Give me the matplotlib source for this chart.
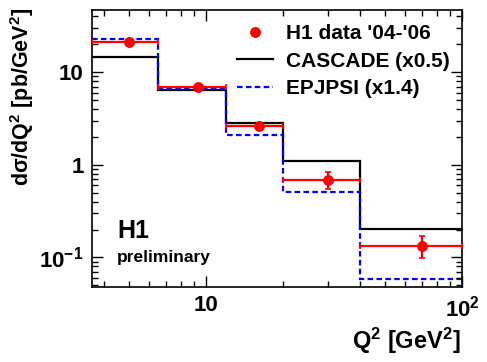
import matplotlib
matplotlib.use('Agg')
import matplotlib.pyplot as plt
from matplotlib.lines import Line2D
import numpy as np

plt.rcParams['font.family'] = ['Liberation Sans', 'DejaVu Sans']
plt.rcParams['font.weight'] = 'bold'
plt.rcParams['mathtext.fontset'] = 'custom'
plt.rcParams['mathtext.rm'] = 'Liberation Sans:bold'
plt.rcParams['mathtext.it'] = 'Liberation Sans:bold'
plt.rcParams['mathtext.bf'] = 'Liberation Sans:bold'

# bins in Q^2 [GeV^2]
edges = [3.6, 6.5, 12, 20, 40, 100]
# H1 data points
q2 = [5.0, 9.3, 16.1, 30.0, 70.0]
xsec = [21.2, 6.94, 2.65, 0.68, 0.133]
err_up = [1.2, 0.5, 0.2, 0.15, 0.037]
err_dn = [1.2, 0.5, 0.2, 0.13, 0.034]
# model predictions (scaled)
cascade = [14.6, 6.4, 2.86, 1.09, 0.204]
epjpsi = [22.8, 6.67, 2.12, 0.508, 0.0587]

W, H = 487, 362
fig = plt.figure(figsize=(W/100, H/100), dpi=100)
ax = fig.add_axes([92/W, 1-287/H, (462-92)/W, (287-10)/H])

dash = (0, (2.5, 1.5))
ax.stairs(cascade, edges, color='black', lw=1.6, baseline=None)
ax.stairs(epjpsi, edges, color='blue', lw=1.6, ls=dash, baseline=None)

xlo = np.array(q2) - np.array(edges[:-1])
xhi = np.array(edges[1:]) - np.array(q2)
ax.errorbar(q2, xsec, xerr=[xlo, xhi], yerr=[err_dn, err_up], fmt='o', color='red',
            ms=6.8, lw=1.6, capsize=2.5, capthick=1.2, zorder=5)

ax.set_xscale('log')
ax.set_yscale('log')
ax.set_xlim(3.6, 100)
ax.set_ylim(0.048, 47)

ax.set_xticks([10, 100])
ax.set_xticklabels(['10', r'$10^{2}$'])
ax.set_yticks([0.1, 1, 10])
ax.set_yticklabels([r'$10^{-1}$', '1', '10'])
ax.tick_params(which='both', direction='in', top=True, right=True, labelsize=16, width=1)
ax.tick_params(which='major', length=8, pad=6)
ax.tick_params(which='minor', length=4)
for s in ax.spines.values():
    s.set_linewidth(1.2)

fig.text(22/W, 1-8/H, r'd$\sigma$/dQ$^{2}$ [pb/GeV$^{2}$]', fontsize=15.5, fontweight='bold',
         rotation=90, ha='center', va='top')
fig.text(461/W, 1-326/H, r'Q$^{2}$ [GeV$^{2}$]', fontsize=17, fontweight='bold',
         ha='right', va='top')

ax.text((117-92)/370, (287-238)/277, 'H1', transform=ax.transAxes, fontsize=18,
        fontweight='bold', va='baseline')
ax.text((117-92)/370, (287-262)/277, 'preliminary', transform=ax.transAxes, fontsize=12.5,
        fontweight='bold', va='baseline')

h = [Line2D([], [], marker='o', color='red', ls='none', ms=6.8),
     Line2D([], [], color='black', lw=1.6),
     Line2D([], [], color='blue', lw=1.6, ls=dash)]
labels = ["H1 data '04-'06", 'CASCADE (x0.5)', 'EPJPSI (x1.4)']
ax.legend(h, labels, loc='upper left', bbox_to_anchor=((237-92)/370, (287-24)/277),
          frameon=False, fontsize=15, handlelength=1.75, labelspacing=0.42,
          handletextpad=0.6, borderpad=0, borderaxespad=0)

fig.savefig('out.png', dpi=100)
